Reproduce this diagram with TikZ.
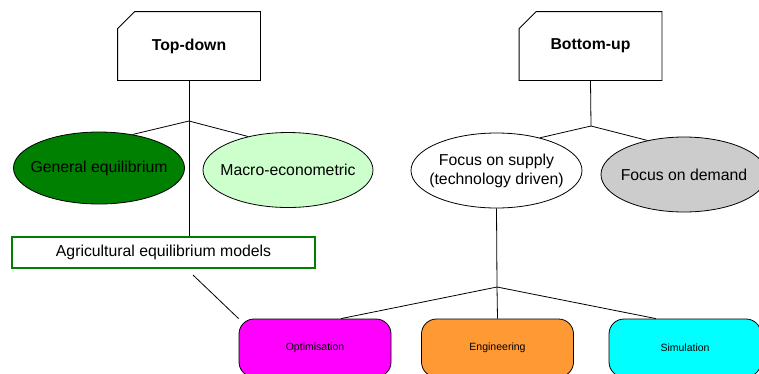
\documentclass[tikz,border=0pt]{standalone}
\usepackage{fontspec}
\setmainfont{Liberation Sans}
\usetikzlibrary{shapes.geometric}

\definecolor{darkgreen}{RGB}{0,128,0}
\definecolor{palegreen}{RGB}{204,255,204}
\definecolor{demandgray}{RGB}{204,204,204}
\definecolor{optmagenta}{RGB}{255,0,255}
\definecolor{engorange}{RGB}{255,153,51}
\definecolor{simcyan}{RGB}{0,255,255}

\begin{document}
\begin{tikzpicture}[x=1pt, y=-1pt, line width=0.8pt,
  approach/.style={rectangle, minimum width=142pt, minimum height=68pt, inner sep=0pt,
    font=\fontsize{15.8}{19}\selectfont\bfseries},
  family/.style={ellipse, draw, minimum width=171pt, minimum height=75pt, inner sep=0pt},
  familytext/.style={align=center, inner sep=0pt, font=\fontsize{15.8}{19}\selectfont},
  method/.style={rectangle, draw, rounded corners=15pt, minimum width=152pt, minimum height=58pt,
    inner sep=0pt, font=\fontsize{10.5}{12}\selectfont}]

\useasboundingbox (0,0) rectangle (759,373);

% two approaches, boxes with one corner cut off
\node[approach] (td) at (189,46) {Top-down};
\node[approach] (bu) at (590.5,46) {Bottom-up};
\foreach \n in {td,bu}
  \draw (\n.south west) -- (\n.south east) -- (\n.north east)
    -- ([xshift=17pt]\n.north west) -- ([yshift=-17pt]\n.north west) -- cycle;

% top-down families (ellipse size is fixed, the text sits on top)
\node[family, fill=darkgreen, minimum height=72pt,
  label={[familytext]center:General equilibrium}] (ge) at (99,168) {};
\node[family, fill=palegreen, minimum width=170pt,
  label={[familytext]center:Macro-econometric}] (me) at (288,170) {};
\node[draw=darkgreen, line width=2.4pt, minimum width=303pt, minimum height=31pt, inner sep=0pt,
  font=\fontsize{15.8}{19}\selectfont] (ag) at (163.5,252.5) {Agricultural equilibrium models};

% bottom-up families
\node[family, fill=white,
  label={[familytext]center:{Focus on supply\\(technology driven)}}] (fs) at (496.5,170.5) {};
\node[family, fill=demandgray, minimum width=166pt,
  label={[familytext]center:Focus on demand}] (fd) at (684,174.5) {};

% model types
\node[method, fill=optmagenta] (opt) at (315,348) {Optimisation};
\node[method, fill=engorange] (eng) at (497.5,348) {Engineering};
\node[method, fill=simcyan] (sim) at (685,348) {Simulation};

% branching points
\coordinate (tdj) at (189,121);
\coordinate (buj) at (591,126);
\coordinate (engj) at (497,287);
\coordinate (agfoot) at (193,275);

% tree lines
\draw (td.south) -- (tdj);
\draw (tdj) -- (ge.45);
\draw (tdj) -- (me.140);
\draw (tdj) -- (tdj |- ag.north);

\draw (bu.south) -- (buj);
\draw (buj) -- (fs.37);
\draw (buj) -- (fd.137);

\draw (fs.south) -- (engj);
\draw (engj) -- ([xshift=26pt]opt.north);
\draw (engj) -- (eng.north);
\draw (engj) -- ([xshift=-29pt]sim.north);

\draw (agfoot) -- (opt.north west);

\end{tikzpicture}
\end{document}
